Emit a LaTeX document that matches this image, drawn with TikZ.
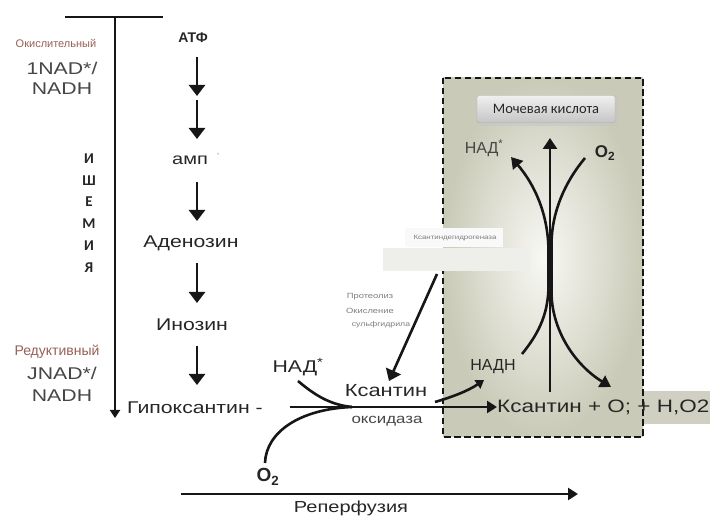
\documentclass[tikz,border=0pt]{standalone}
\usepackage{fontspec}
\setmainfont{Liberation Sans}
\newfontfamily\wsans[FakeStretch=1.25]{Liberation Sans}
\newfontfamily\calb{Carlito}
\usetikzlibrary{arrows.meta}
\newcommand\fsz[1]{\fontsize{#1}{#1}\selectfont}
\definecolor{ink}{RGB}{22,22,22}
\definecolor{txt}{RGB}{38,38,38}
\definecolor{soft}{RGB}{70,70,70}
\definecolor{redbr}{RGB}{150,95,85}
\definecolor{boxin}{RGB}{248,248,244}
\definecolor{boxout}{RGB}{202,202,184}
\definecolor{strip}{RGB}{208,208,194}
\definecolor{faint}{RGB}{125,125,125}
\definecolor{lbl}{RGB}{238,238,234}
\begin{document}
\begin{tikzpicture}[x=1pt,y=-1pt,
  t/.style={inner sep=0pt,text=txt},
  ln/.style={draw=ink,line width=2.6pt},
  pw/.style={ln,-{Triangle[width=16pt,length=11pt]}},
  mw/.style={ln,-{Triangle[width=12pt,length=10pt]}},
  sw/.style={ln,-{Triangle[width=10pt,length=8pt]}}]
\useasboundingbox (0,0) rectangle (710,518);

% ---- shaded box ----
\path[shading=radial,inner color=boxin,outer color=boxout] (443,78) rectangle (643,437);
\fill[strip] (643,391) rectangle (710,424);
\draw[ink,line width=2.8pt,dash pattern=on 6.5pt off 3.5pt] (443,78) rectangle (643,437);
\fill[lbl] (383,248) rectangle (530,271);
\fill[white!95!gray] (405,228) rectangle (503,247);
\node[t,text=faint] (xdh) at (455,238) {\wsans\fsz{6.3}Ксантиндегидрогеназа};

% ---- Uric acid button ----
\fill[gray!45,opacity=.6,rounded corners=2pt] (479,98) rectangle (618,126);
\node[draw=gray!65,rounded corners=2pt,top color=gray!12,bottom color=gray!45,
  minimum width=138pt,minimum height=27pt,inner sep=0pt,text=txt,
  font=\calb\fsz{14.5}] (uric) at (546,109) {Мочевая кислота};

% ---- ischemia axis ----
\coordinate (bar0) at (65,17);
\coordinate (bar1) at (163,17);
\coordinate (ax0) at (115,17);
\coordinate (ax1) at (115,418);
\draw[ln] (bar0) -- (bar1);
\draw[sw] (ax0) -- (ax1);

\node[t,text=redbr] (oxl) at (56,43) {\fsz{11}Окислительный};
\node[t,text=soft,align=center,font=\wsans\fontsize{17}{20}\selectfont] (nad1) at (62,78) {1NAD*/\\NADH};
\node[t,text=redbr] (red) at (57,352) {\fsz{14}Редуктивный};
\node[t,text=soft,align=center,font=\wsans\fontsize{17}{22}\selectfont] (nad2) at (62,384) {JNAD*/\\NADH};
\node[t,align=center,font=\calb\bfseries\fontsize{15}{21.8}\selectfont] (isch) at (89,213) {И\\Ш\\Е\\М\\И\\Я};

% ---- pathway ----
\node[t] (atp) at (193,38) {\bfseries\fsz{14}АТФ};
\node[t] (amp) at (190,160) {\wsans\fsz{16}амп};
\node[t,text=gray] (tick) at (218,156) {\fsz{9}'};
\node[t] (aden) at (191,243) {\wsans\fsz{17}Аденозин};
\node[t] (ino) at (192,325) {\wsans\fsz{17}Инозин};
\node[t,anchor=west] (hyp) at (127,408) {\wsans\fsz{17}Гипоксантин -};

\coordinate (a1s) at (197,57);  \coordinate (a1e) at (197,96);
\coordinate (a2s) at (197,100); \coordinate (a2e) at (197,139);
\coordinate (a3s) at (197,182); \coordinate (a3e) at (197,221);
\coordinate (a4s) at (197,263); \coordinate (a4e) at (197,303);
\coordinate (a5s) at (197,346); \coordinate (a5e) at (197,385);
\draw[pw] (a1s) -- (a1e);
\draw[pw] (a2s) -- (a2e);
\draw[pw] (a3s) -- (a3e);
\draw[pw] (a4s) -- (a4e);
\draw[pw] (a5s) -- (a5e);

% ---- xanthine oxidase reaction ----
\node[t] (nadl) at (298,367) {\wsans\fsz{17}НАД\textsuperscript{*}};
\node[t] (xo1) at (386,391) {\wsans\fsz{17.5}Ксантин};
\node[t,text=soft] (xo2) at (387,421) {\wsans\fsz{13.5}оксидаза};
\node[t,anchor=west] (prod) at (497,407) {\wsans\fsz{18}Ксантин + О; + Н,О2};
\node[t] (o2b) at (268,477) {\bfseries\fsz{19}O\textsubscript{2}};

\coordinate (m0) at (290,407);
\draw[mw] (m0) -- (prod.west);
\coordinate (n0) at (298,381);
\coordinate (j1) at (352,407);
\draw[ln] (n0) .. controls (318,398) and (333,405) .. (j1);
\coordinate (o0) at (265,463);
\draw[ln] (o0) .. controls (266,432) and (300,409) .. (j1);

\node[t] (nadh) at (493,367) {\fsz{16}НАДН};
\coordinate (h0) at (435,402);
\coordinate (h1) at (484,380);
\draw[sw] (h0) .. controls (452,397) and (468,391) .. (h1);

% proteolysis arrow
\node[t,text=faint] (pr1) at (370,297) {\wsans\fsz{7.5}Протеолиз};
\node[t,text=faint] (pr2) at (370,311) {\wsans\fsz{7.5}Окисление};
\node[t,text=faint] (pr3) at (381,325) {\wsans\fsz{7}сульфгидрила};
\coordinate (p0) at (437,274);
\coordinate (p1) at (389,381);
\draw[pw] (p0) -- (p1);

% ---- inside box ----
\node[t,text=soft] (nadt) at (484,148) {\fsz{16}НАД\textsuperscript{*}};
\node[t] (o2t) at (605,153) {\bfseries\fsz{17}O\textsubscript{2}};
\coordinate (v0) at (550,392);
\coordinate (v1) at (550,138);
\draw[ln,-{Triangle[width=14pt,length=11pt]}] (v0) -- (v1);
\coordinate (c1) at (522,354);
\coordinate (c2) at (511,157);
\draw[ln,-{Triangle[width=13pt,length=11pt]}] (c1) .. controls (540,332) and (548.5,312) .. (548.5,285) -- (548.5,252) .. controls (548.5,215) and (535,185) .. (c2);
\coordinate (d1) at (585,158);
\coordinate (d2) at (611,387);
\draw[ln,-{Triangle[width=13pt,length=11pt]}] (d1) .. controls (565,182) and (551.5,212) .. (551.5,245) -- (551.5,292) .. controls (551.5,330) and (575,365) .. (d2);

% ---- reperfusion ----
\coordinate (r0) at (181,494);
\coordinate (r1) at (578,494);
\draw[mw] (r0) -- (r1);
\node[t] (rep) at (351,508) {\wsans\fsz{16}Реперфузия};
\end{tikzpicture}
\end{document}
